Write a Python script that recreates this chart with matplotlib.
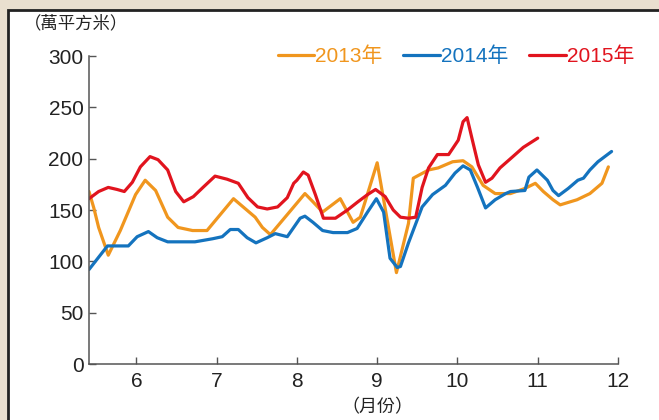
import numpy as np
import matplotlib
matplotlib.use('Agg')
import matplotlib.pyplot as plt
from matplotlib.patches import Rectangle

plt.rcParams['font.family'] = ['Liberation Sans', 'Noto Sans CJK TC']

# 月份位置 / 數值（萬平方米）
m2013 = [5.41, 5.47, 5.53, 5.65, 5.80, 5.99, 6.11, 6.24, 6.39, 6.52, 6.70, 6.88,
         7.21, 7.33, 7.48, 7.57, 7.67, 8.10, 8.20, 8.32, 8.54, 8.70, 8.79, 9.00,
         9.24, 9.39, 9.45, 9.64, 9.76, 9.94, 10.07, 10.18, 10.32, 10.47, 10.66,
         10.84, 10.97, 11.07, 11.19, 11.28, 11.49, 11.65, 11.80, 11.88]
v2013 = [168, 152, 133, 106, 130, 165, 179, 169, 143, 133, 130, 130,
         161, 153, 143, 133, 126, 166, 158, 148, 161, 138, 143, 196,
         89, 137, 181, 189, 191, 197, 198, 192, 174, 166, 166,
         171, 176, 168, 160, 155, 160, 166, 176, 192]

m2014 = [5.41, 5.64, 5.90, 6.01, 6.15, 6.26, 6.39, 6.73, 6.95, 7.07, 7.17, 7.27,
         7.38, 7.49, 7.63, 7.73, 7.88, 8.04, 8.10, 8.20, 8.32, 8.45, 8.63, 8.75,
         8.88, 8.99, 9.08, 9.16, 9.25, 9.29, 9.39, 9.56, 9.69, 9.85, 9.97, 10.07,
         10.16, 10.25, 10.35, 10.47, 10.60, 10.66, 10.84, 10.89, 10.99, 11.12,
         11.19, 11.26, 11.38, 11.50, 11.57, 11.65, 11.75, 11.92]
v2014 = [92, 115, 115, 124, 129, 123, 119, 119, 122, 124, 131, 131,
         123, 118, 123, 127, 124, 142, 144, 138, 130, 128, 128, 132,
         148, 161, 148, 103, 94, 95, 118, 153, 165, 174, 186, 193,
         189, 172, 152, 160, 166, 168, 169, 182, 189, 179,
         169, 164, 171, 179, 181, 189, 197, 207]

m2015 = [5.41, 5.53, 5.65, 5.76, 5.85, 5.95, 6.05, 6.17, 6.27, 6.39, 6.49, 6.59,
         6.71, 6.83, 6.98, 7.13, 7.27, 7.39, 7.51, 7.63, 7.76, 7.88, 7.96, 8.00,
         8.08, 8.14, 8.23, 8.33, 8.48, 8.63, 8.76, 8.88, 8.98, 9.10, 9.20, 9.29,
         9.39, 9.48, 9.56, 9.64, 9.75, 9.89, 10.01, 10.07, 10.12, 10.18, 10.26,
         10.35, 10.43, 10.53, 10.69, 10.82, 11.00]
v2015 = [161, 168, 172, 170, 168, 177, 192, 202, 199, 189, 168, 158,
         163, 172, 183, 180, 176, 162, 153, 151, 153, 162, 176, 179,
         187, 184, 165, 142, 142, 150, 158, 165, 170, 163, 150, 143,
         142, 143, 172, 191, 204, 204, 218, 236, 240, 220, 194,
         177, 181, 191, 202, 211, 220]

labels = ['2013年', '2014年', '2015年']
colors = ['#F0961E', '#1473BE', '#E1141E']

fig = plt.figure(figsize=(6.59, 4.2), dpi=100, facecolor='#E9DFCF')
# 掃描邊框
fig.patches.append(Rectangle((8/659, -0.01), 1.0, 1 - 10/420 + 0.01, transform=fig.transFigure,
                             facecolor='white', edgecolor='#222222', linewidth=2.0, zorder=-10))

ax = fig.add_axes([89/659, 1 - 364/420, (618 - 89)/659, (364 - 56)/420])
ax.set_zorder(5)
ax.set_facecolor('none')
for m, v, lab, c in zip([m2013, m2014, m2015], [v2013, v2014, v2015], labels, colors):
    ax.plot(m, v, color=c, lw=2.3, label=lab, solid_joinstyle='round', solid_capstyle='round')

ax.set_xlim(5.41, 12)
ax.set_ylim(0, 300)
ax.set_xticks(range(6, 13))
ax.set_yticks(range(0, 301, 50))
ax.tick_params(direction='in', length=5, width=1, color='#555555', labelsize=15,
               labelcolor='#222222')
ax.tick_params(axis='y', pad=4)
ax.tick_params(axis='x', pad=6)
for s in ['top', 'right']:
    ax.spines[s].set_visible(False)
for s in ['left', 'bottom']:
    ax.spines[s].set_color('#555555')
    ax.spines[s].set_linewidth(1.1)

fig.text(24/659, 1 - 23/420, '（萬平方米）', fontsize=12.5, color='#222222',
         family=['Noto Sans CJK TC'], va='center', ha='left')
fig.text(377/659, 1 - 407/420, '（月份）', fontsize=13, color='#222222',
         family=['Noto Sans CJK TC'], va='center', ha='center')

leg = ax.legend(loc='center right', bbox_to_anchor=(634/659, 1 - 56/420),
                bbox_transform=fig.transFigure, ncol=3, frameon=False,
                handlelength=1.75, handletextpad=0.05, columnspacing=1.0,
                fontsize=15, borderpad=0, borderaxespad=0)
for t, c in zip(leg.get_texts(), colors):
    t.set_color(c)

fig.savefig('out.png', dpi=100, facecolor=fig.get_facecolor())
